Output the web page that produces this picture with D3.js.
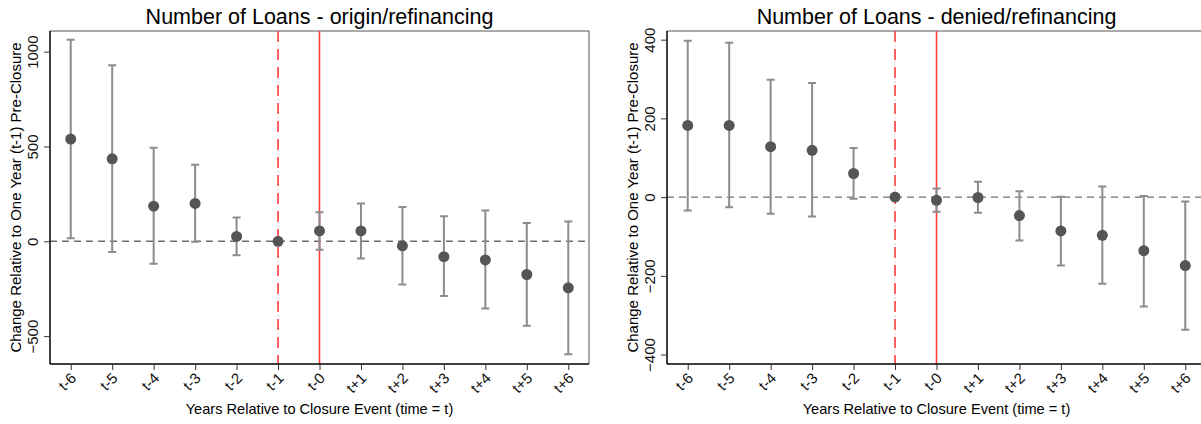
<!DOCTYPE html>
<html lang="en">

<head>
    <meta charset="UTF-8">
    <title>Number of Loans</title>
    <script src="https://d3js.org/d3.v7.min.js"></script>

    <style>
        body {
            margin: 0;
            background: white;
        }
        svg {
            width: 1201px;
            height: 424px;
            font-family: "Liberation Sans", Arial, Helvetica, sans-serif;
        }
    </style>

</head>

<body>
    <svg id="chart"></svg>

    <script>
        // data
        var periods = ['t-6', 't-5', 't-4', 't-3', 't-2', 't-1', 't-0', 't+1', 't+2', 't+3', 't+4', 't+5', 't+6'];
        var offsets = [-6, -5, -4, -3, -2, -1, 0, 1, 2, 3, 4, 5, 6];

        var originCoef = [539, 435, 185, 200, 26, 0, 55, 55, -24, -81, -98, -175, -245];
        var originLow = [16, -56, -119, -3, -74, null, -44, -91, -228, -289, -354, -445, -595];
        var originHigh = [1063, 928, 493, 404, 126, null, 153, 200, 181, 132, 162, 97, 104];
        var originTicks = [-500, 0, 500, 1000];

        var deniedCoef = [182, 182, 128, 119, 60, 0, -8, -1, -47, -86, -97, -136, -174];
        var deniedLow = [-34, -26, -42, -49, -4, null, -37, -40, -110, -174, -220, -278, -337];
        var deniedHigh = [397, 392, 298, 290, 125, null, 22, 39, 15, 1, 27, 3, -11];
        var deniedTicks = [-400, -200, 0, 200, 400];

        var yTitle = 'Change Relative to One Year (t-1) Pre-Closure';
        var xTitle = 'Years Relative to Closure Event (time = t)';

        function panel(svg, opts) {
            var left = opts.left, right = opts.right, top = 31, bottom = 364;

            var x = d3.scaleLinear().domain([-6.5, 6.5]).range([left, right]);
            var y = d3.scaleLinear().domain(opts.domain).range([bottom, top]);

            var rows = periods.map(function(p, i) {
                return {label: p, t: offsets[i], coef: opts.coef[i], lo: opts.low[i], hi: opts.high[i]};
            });

            var g = svg.append('g');

            // frame (top and right)
            g.append('path')
                .attr('d', `M${left},${top}H${right}V${bottom}`)
                .attr('fill', 'none')
                .attr('stroke', '#555')
                .attr('stroke-width', 1);

            // zero line
            g.append('line')
                .attr('x1', left).attr('x2', right)
                .attr('y1', y(0)).attr('y2', y(0))
                .attr('stroke', '#6e6e6e')
                .attr('stroke-width', 1.4)
                .attr('stroke-dasharray', '7,5');

            // event lines: dashed (with faint dots) at t-1, solid at t-0
            g.append('line')
                .attr('x1', x(-1)).attr('x2', x(-1))
                .attr('y1', top).attr('y2', bottom)
                .attr('stroke', '#ff3b3b')
                .attr('stroke-width', 1.6)
                .attr('stroke-dasharray', '11,7');
            g.append('line')
                .attr('x1', x(-1)).attr('x2', x(-1))
                .attr('y1', top).attr('y2', bottom)
                .attr('stroke', '#ff3b3b')
                .attr('stroke-opacity', 0.35)
                .attr('stroke-width', 1.6)
                .attr('stroke-dasharray', '0,14.5,1,2.5');
            g.append('line')
                .attr('x1', x(0)).attr('x2', x(0))
                .attr('y1', top).attr('y2', bottom)
                .attr('stroke', '#ff3b3b')
                .attr('stroke-width', 1.6);

            // error bars
            var bars = rows.filter(function(d) { return d.lo !== null; });
            var eb = g.append('g')
                .attr('stroke', '#8c8c8c')
                .attr('stroke-width', 2)
                .attr('fill', 'none');
            eb.selectAll('path')
                .data(bars)
                .join('path')
                .attr('d', function(d) {
                    var cx = x(d.t);
                    return `M${cx},${y(d.lo)}V${y(d.hi)}` +
                        `M${cx - 4},${y(d.hi)}H${cx + 4}` +
                        `M${cx - 4},${y(d.lo)}H${cx + 4}`;
                });

            // points
            g.selectAll('circle')
                .data(rows)
                .join('circle')
                .attr('cx', function(d) { return x(d.t); })
                .attr('cy', function(d) { return y(d.coef); })
                .attr('r', 5.5)
                .attr('fill', '#555');

            // y axis
            var yAxis = g.append('g')
                .attr('transform', `translate(${left},0)`)
                .call(d3.axisLeft(y).tickValues(opts.ticks).tickSize(6).tickSizeOuter(0).tickFormat(d3.format('d')));
            yAxis.select('.domain').attr('stroke', '#000').attr('stroke-width', 1.5)
                .attr('d', `M0,${top}V${bottom}`);
            yAxis.selectAll('.tick line').attr('stroke', '#333');
            yAxis.selectAll('.tick text')
                .attr('x', null).attr('dy', null)
                .attr('text-anchor', 'middle')
                .attr('transform', 'translate(-12,0) rotate(-90)')
                .attr('font-size', 15)
                .attr('fill', '#111')
                .attr('font-family', null);

            // x axis
            var xAxis = g.append('g')
                .attr('transform', `translate(0,${bottom})`)
                .call(d3.axisBottom(x).tickValues(offsets).tickSize(6).tickSizeOuter(0)
                    .tickFormat(function(d) { return periods[offsets.indexOf(d)]; }));
            xAxis.select('.domain').attr('stroke', '#000').attr('stroke-width', 1.5)
                .attr('d', `M${left},0H${right}`);
            xAxis.selectAll('.tick line').attr('stroke', '#333');
            xAxis.selectAll('.tick text')
                .attr('y', null).attr('dy', null)
                .attr('text-anchor', 'end')
                .attr('transform', 'translate(6,15) rotate(-45)')
                .attr('font-size', 15)
                .attr('fill', '#111')
                .attr('font-family', null);

            // titles
            g.append('text')
                .attr('x', (left + right) / 2)
                .attr('y', 24)
                .attr('text-anchor', 'middle')
                .attr('font-size', 21.5)
                .text(opts.title);

            g.append('text')
                .attr('x', (left + right) / 2)
                .attr('y', 414)
                .attr('text-anchor', 'middle')
                .attr('font-size', 14.6)
                .text(xTitle);

            g.append('text')
                .attr('transform', `translate(${left - 29},${(top + bottom) / 2}) rotate(-90)`)
                .attr('text-anchor', 'middle')
                .attr('font-size', 15)
                .text(yTitle);
        }

        async function program() {
            var svg = d3.select('#chart');

            panel(svg, {
                left: 50, right: 589,
                domain: [-647, 1109],
                ticks: originTicks,
                coef: originCoef, low: originLow, high: originHigh,
                title: 'Number of Loans - origin/refinancing'
            });

            panel(svg, {
                left: 667, right: 1206,
                domain: [-424, 422],
                ticks: deniedTicks,
                coef: deniedCoef, low: deniedLow, high: deniedHigh,
                title: 'Number of Loans - denied/refinancing'
            });
        }

        program();
    </script>

</body>

</html>
